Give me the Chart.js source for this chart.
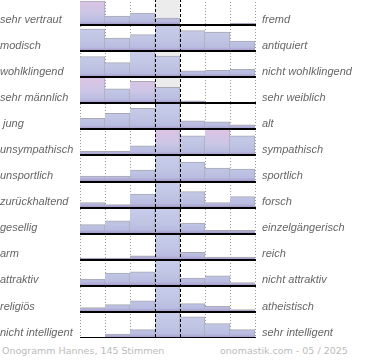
<!DOCTYPE html>
<html lang="de">
<head>
    <meta charset="UTF-8">
    <title>Onogramm Hannes</title>
    <script src="https://cdn.jsdelivr.net/npm/chart.js"></script>
    <style>
        body { margin: 0; width: 370px; height: 360px; overflow: hidden; background: #fff; position: relative; }
        .wrap { position: absolute; left: 0; top: -1px; width: 370px; height: 339px; }
        .foot { position: absolute; top: 345px; font-family: "DejaVu Sans", sans-serif; font-size: 9.5px; color: #bbb; }
    </style>
</head>
<body>
    <div class="wrap"><canvas id="ono"></canvas></div>
    <div class="foot" style="left: 2px;">Onogramm Hannes, 145 Stimmen</div>
    <div class="foot" style="left: 220px;">onomastik.com - 05 / 2025</div>

    <script>
        // adjective pairs (left / right end of each scale)
        const leftLabels = ['sehr vertraut', 'modisch', 'wohlklingend', 'sehr männlich', ' jung', 'unsympathisch',
            'unsportlich', 'zurückhaltend', 'gesellig', 'arm', 'attraktiv', 'religiös', 'nicht intelligent'];
        const rightLabels = ['fremd', 'antiquiert', 'nicht wohlklingend', 'sehr weiblich', 'alt', 'sympathisch',
            'sportlich', 'forsch', 'einzelgängerisch', 'reich', 'nicht attraktiv', 'atheistisch', 'sehr intelligent'];
        const steps = ['1', '2', '3', '4', '5', '6', '7'];

        // bar heights per row (26 = full row)
        const r1 = [24, 9, 12, 7, 0, 0, 2];
        const r2 = [22, 13, 16.5, 26, 20.5, 19, 10];
        const r3 = [20.5, 14.5, 26, 21, 6.5, 7, 8];
        const r4 = [26, 14.5, 22, 16, 2.5, 0, 0];
        const r5 = [11, 16, 21, 26, 8.5, 7.5, 4.5];
        const r6 = [4, 4, 9.5, 26, 19.5, 26, 19.5];
        const r7 = [5.5, 5.5, 11.5, 26, 19.5, 13.5, 12.5];
        const r8 = [5, 3, 13.5, 26, 16, 5, 11];
        const r9 = [9, 12.7, 26, 26, 10.7, 3.3, 3.3];
        const r10 = [1.7, 1.7, 4, 26, 7.3, 2.7, 2.7];
        const r11 = [6.7, 12.7, 14, 26, 7.7, 10, 3.3];
        const r12 = [4.3, 7.3, 11, 26, 8.3, 5.7, 2.3];
        const r13 = [0, 4, 8.3, 26, 21, 14.3, 8.3];
        const rows = [r1, r2, r3, r4, r5, r6, r7, r8, r9, r10, r11, r12, r13];
        // steps flagged in the original (drawn pink)
        const marked = [[0], [], [], [0, 2], [], [3, 5], [], [], [], [], [], [], []];

        const CAP = 26;
        const N = rows.length;
        const baseOf = i => N - 1 - i;

        function barColor(ctx) {
            const chart = ctx.chart;
            if (!chart.chartArea) return '#c3c8e6';
            const y = chart.scales.y;
            const b = baseOf(ctx.datasetIndex);
            const top = y.getPixelForValue(b + 1), bot = y.getPixelForValue(b);
            const g = chart.ctx.createLinearGradient(0, top, 0, bot);
            if (marked[ctx.datasetIndex].includes(ctx.dataIndex)) {
                g.addColorStop(0, '#ddc3e4');
                g.addColorStop(0.55, '#ccc6e6');
            } else {
                g.addColorStop(0, '#c8cdea');
                g.addColorStop(0.55, '#c0c5e4');
            }
            g.addColorStop(0.85, '#b9bce0');
            g.addColorStop(1, '#a394c6');
            return g;
        }

        const datasets = rows.map((vals, i) => ({
            data: vals.map(v => [baseOf(i), baseOf(i) + Math.min(v, CAP) / CAP]),
            backgroundColor: barColor,
            borderColor: '#a9a9b2',
            borderWidth: { top: 1, right: 1, left: 0, bottom: 0 },
            borderSkipped: false,
            grouped: false,
            barPercentage: 1,
            categoryPercentage: 1
        }));

        const frame = {
            id: 'frame',
            beforeDatasetsDraw(chart) {
                const { ctx, chartArea: a, scales: { x } } = chart;
                const w = x.width / steps.length;
                ctx.save();
                // middle step background
                const cx = x.getPixelForValue(3);
                ctx.fillStyle = '#ececec';
                ctx.fillRect(cx - w / 2, a.top, w, a.bottom - a.top);
                // dotted step separators
                ctx.strokeStyle = '#999';
                ctx.lineWidth = 1;
                ctx.setLineDash([1, 2]);
                for (let k = 0; k <= steps.length; k++) {
                    if (k === 3 || k === 4) continue;
                    const px = Math.round(x.left + k * w) + 0.5;
                    ctx.beginPath();
                    ctx.moveTo(px, a.top);
                    ctx.lineTo(px, a.bottom);
                    ctx.stroke();
                }
                ctx.restore();
            },
            afterDatasetsDraw(chart) {
                const { ctx, chartArea: a, scales: { x, y } } = chart;
                const w = x.width / steps.length;
                ctx.save();
                ctx.strokeStyle = '#000';
                ctx.lineWidth = 1;
                ctx.setLineDash([3, 2]);
                [3, 4].forEach(k => {
                    const px = Math.round(x.left + k * w) + 0.5;
                    ctx.beginPath();
                    ctx.moveTo(px, a.top);
                    ctx.lineTo(px, a.bottom);
                    ctx.stroke();
                });
                ctx.setLineDash([]);
                ctx.lineWidth = 2;
                rows.forEach((_, i) => {
                    const py = Math.round(y.getPixelForValue(baseOf(i)));
                    ctx.beginPath();
                    ctx.moveTo(a.left, py);
                    ctx.lineTo(a.right + 1, py);
                    ctx.stroke();
                });
                ctx.restore();
            }
        };

        const labelFont = { family: 'Liberation Sans', size: 11, style: 'italic' };

        new Chart(document.getElementById('ono'), {
            type: 'bar',
            data: { labels: steps, datasets },
            options: {
                responsive: true,
                maintainAspectRatio: false,
                animation: false,
                layout: { padding: 0 },
                plugins: { legend: { display: false }, tooltip: { enabled: false } },
                scales: {
                    x: { display: false, offset: true },
                    y: {
                        min: 0, max: N,
                        position: 'left',
                        grid: { display: false, drawTicks: false },
                        border: { display: false },
                        afterBuildTicks: s => { s.ticks = leftLabels.map((_, i) => ({ value: baseOf(i) + 0.21 })); },
                        afterFit: s => { s.width = 80; s.paddingTop = 0; s.paddingBottom = 0; },
                        ticks: { autoSkip: false, crossAlign: 'far', padding: 0, color: '#666', font: labelFont,
                            callback: (v, i) => leftLabels[i] }
                    },
                    y2: {
                        min: 0, max: N,
                        position: 'right',
                        grid: { display: false, drawTicks: false },
                        border: { display: false },
                        afterBuildTicks: s => { s.ticks = rightLabels.map((_, i) => ({ value: baseOf(i) + 0.21 })); },
                        afterFit: s => { s.width = 115; s.paddingTop = 0; s.paddingBottom = 0; },
                        ticks: { autoSkip: false, padding: 7, color: '#666', font: labelFont,
                            callback: (v, i) => rightLabels[i] }
                    }
                }
            },
            plugins: [frame]
        });
    </script>
</body>
</html>
